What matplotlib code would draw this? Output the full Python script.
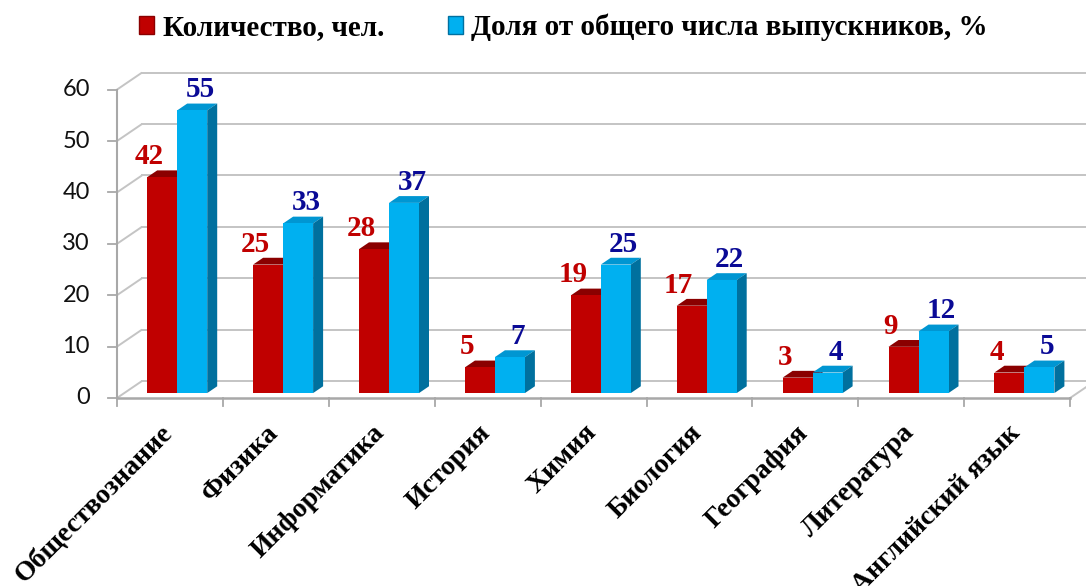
import matplotlib
matplotlib.use("Agg")
import matplotlib.pyplot as plt
from matplotlib.patches import Polygon, Patch

categories = ["Обществознание", "Физика", "Информатика", "История", "Химия",
              "Биология", "География", "Литература", "Английский язык"]
count_people = [42, 25, 28, 5, 19, 17, 3, 9, 4]
share_percent = [55, 33, 37, 7, 25, 22, 4, 12, 5]
series_names = ["Количество, чел.", "Доля от общего числа выпускников, %"]
y_ticks = [0, 10, 20, 30, 40, 50, 60]

W, H = 1086, 586
fig = plt.figure(figsize=(W / 100, H / 100), dpi=100)
ax = fig.add_axes([0, 0, 1, 1])

# pixel geometry of the oblique projection
X0, XS = 117.0, 105.9      # front axis x (px), px per category
Y0, YS = 398.0, 5.14       # front zero line y (px), px per value unit
ax.set_xlim(-X0 / XS, (W - X0) / XS)
ax.set_ylim((Y0 - H) / YS, Y0 / YS)
ax.axis("off")

def dx(px):
    return px / XS

def dy(px):
    return px / YS

DX, DZ = dx(25), dy(17)          # full depth of the floor/walls
n = len(categories)
grid_c = "#C4C4C4"
axis_c = "#A8A8A8"

# back wall gridlines + left wall diagonals
for t in y_ticks:
    ax.plot([0, DX], [t, t + DZ], color=grid_c, lw=1.4, zorder=1, solid_capstyle="butt")
    ax.plot([DX, n + DX + 1], [t + DZ, t + DZ], color=grid_c, lw=1.4, zorder=1)
# floor right edge
ax.plot([n, n + DX], [0, DZ], color=grid_c, lw=1.4, zorder=1)
# front axes
ax.plot([0, 0], [0, y_ticks[-1]], color=axis_c, lw=1.5, zorder=2)
ax.plot([0, n], [0, 0], color=axis_c, lw=1.8, zorder=2)
for t in y_ticks:
    ax.plot([dx(-9), 0], [t, t], color=axis_c, lw=1.3, zorder=2)
    ax.text(dx(-27), t, str(t), ha="right", va="center", fontsize=17,
            family="Lato", color="#111111")
for i in range(n + 1):
    ax.plot([i, i], [0, dy(-8)], color=axis_c, lw=1.3, zorder=2)

# bars
t0, tb = 0.29, 0.40
BW = dx(30)
red, red_top = "#C00000", "#8A0000"
blue, blue_top, blue_side = "#00B0F0", "#0096D2", "#00709E"
bdx, bdz = tb * DX, tb * DZ

def bar3d(xl, h, front, top, side):
    base = t0 * DZ
    ax.bar(xl, h, width=BW, bottom=base, align="edge", color=front,
           edgecolor="none", zorder=5)
    xr = xl + BW
    ax.add_patch(Polygon([(xl, base + h), (xr, base + h), (xr + bdx, base + h + bdz),
                          (xl + bdx, base + h + bdz)], closed=True,
                         facecolor=top, edgecolor="none", zorder=4))
    if side is not None:
        ax.add_patch(Polygon([(xr, base), (xr, base + h), (xr + bdx, base + h + bdz),
                              (xr + bdx, base + bdz)], closed=True,
                             facecolor=side, edgecolor="none", zorder=4))

for i in range(n):
    c = i + 0.5 + t0 * DX
    bar3d(c - BW, count_people[i], red, red_top, red_top)
    bar3d(c, share_percent[i], blue, blue_top, blue_side)
    base = t0 * DZ
    ax.text(c - BW / 2 - dx(13), base + count_people[i] + dy(13), str(count_people[i]),
            ha="center", va="baseline", fontsize=21, fontweight="bold",
            family="Liberation Serif", color="#C00000", zorder=6)
    ax.text(c + BW / 2 + dx(8), base + share_percent[i] + dy(13), str(share_percent[i]),
            ha="center", va="baseline", fontsize=21, fontweight="bold",
            family="Liberation Serif", color="#0A0A96", zorder=6)
    ax.text(i + 0.5 - dx(1), dy(-31), categories[i], rotation=45, rotation_mode="anchor",
            ha="right", va="center", fontsize=20, fontweight="bold",
            family="Liberation Serif", color="black")

handles = [Patch(facecolor=red, edgecolor="#8A0000", lw=1.0),
           Patch(facecolor=blue, edgecolor="#0070A0", lw=1.0)]
fig.legend(handles, series_names, ncol=2, loc="center", bbox_to_anchor=(0.519, 0.953),
           frameon=False, prop={"family": "Liberation Serif", "weight": "bold", "size": 21},
           handlelength=0.5, handleheight=0.6, handletextpad=0.3, columnspacing=2.2)

fig.savefig("out.png", dpi=100)
